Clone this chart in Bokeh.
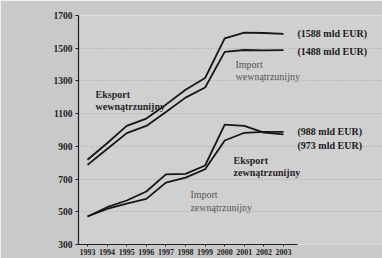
from bokeh.plotting import figure
from bokeh.models import Range1d, FixedTicker, ColumnDataSource
from bokeh.core.properties import value
from bokeh.embed import file_html
from bokeh.resources import INLINE

years = [1993, 1994, 1995, 1996, 1997, 1998, 1999, 2000, 2001, 2002, 2003]
eksport_wew = [818, 919, 1025, 1070, 1155, 1246, 1318, 1560, 1595, 1593, 1588]
import_wew = [787, 884, 981, 1025, 1110, 1198, 1260, 1478, 1489, 1487, 1488]
import_zew = [471, 528, 569, 624, 729, 732, 783, 1033, 1025, 984, 973]
eksport_zew = [471, 518, 550, 579, 678, 709, 760, 936, 983, 988, 988]
y_ticks = [300, 500, 700, 900, 1100, 1300, 1500, 1700]
x_ticks = years

FONT = "Liberation Serif"
BG = "#d0d0d0"

W, H = 382, 258
LEFT, TOP = 78, 15
p = figure(width=W, height=H, output_backend="svg", toolbar_location=None,
           x_range=Range1d(1992.54, 1992.54 + (W - LEFT) / 19.6), y_range=Range1d(300, 1700),
           min_border_left=LEFT, min_border_right=0, min_border_top=TOP, min_border_bottom=14)
p.background_fill_color = BG
p.border_fill_color = "#c9c9c9"
p.outline_line_color = None

for ax in (p.xaxis[0], p.yaxis[0]):
    ax.axis_line_color = "#1e1e1e"
    ax.axis_line_width = 1.2
    ax.major_tick_line_color = "#1e1e1e"
    ax.minor_tick_line_color = None
    ax.major_tick_in = 0
    ax.major_label_text_font = FONT
    ax.major_label_text_font_style = "bold"
    ax.major_label_text_color = "#222222"

p.xaxis.ticker = FixedTicker(ticks=x_ticks)
p.xaxis.bounds = (1992.54, 2003.7)
p.xaxis.major_tick_out = 2
p.xaxis.major_label_standoff = 2
p.xaxis.major_label_text_font_size = "8px"

p.yaxis.ticker = FixedTicker(ticks=y_ticks)
p.yaxis.major_tick_out = 3
p.yaxis.major_label_standoff = 3
p.yaxis.major_label_text_font_size = "9.5px"

p.xgrid.visible = False
p.ygrid.ticker = FixedTicker(ticks=y_ticks[1:-1])
p.ygrid.bounds = (1992.54, 2003.7)
p.ygrid.grid_line_color = "#a4a4a4"
p.ygrid.grid_line_dash = "1 2"
p.ygrid.grid_line_width = 1

for series in (eksport_wew, import_wew, import_zew, eksport_zew):
    p.line(years, series, line_color="#161616", line_width=1.8)

# end value labels
end_vals = [eksport_wew[-1], import_wew[-1], eksport_zew[-1], import_zew[-1]]
end_src = ColumnDataSource(dict(
    x=[years[-1]] * 4,
    y=end_vals,
    text=[f"({v} mld EUR)" for v in end_vals],
    yoff=[0, 1, 0, 11],
))
p.text(x="x", y="y", text="text", source=end_src, x_offset=14, y_offset="yoff",
       text_font=value(FONT), text_font_style="bold", text_font_size="10px",
       text_color="#1a1a1a", text_baseline="middle", text_align="left")

# series name labels
bold_src = ColumnDataSource(dict(
    x=[1993.41, 1993.41, 2000.45, 2000.45],
    y=[1217, 1142, 814, 740],
    text=["Eksport", "wewnątrzunijny", "Eksport", "zewnątrzunijny"],
))
p.text(x="x", y="y", text="text", source=bold_src,
       text_font=value(FONT), text_font_style="bold", text_font_size="10px",
       text_color="#262626", text_baseline="middle", text_align="left")

reg_src = ColumnDataSource(dict(
    x=[2000.55, 2000.55, 1998.25, 1998.25],
    y=[1403, 1328, 603, 529],
    text=["Import", "wewnątrzunijny", "Import", "zewnątrzunijny"],
))
p.text(x="x", y="y", text="text", source=reg_src,
       text_font=value(FONT), text_font_size="10px",
       text_color="#555555", text_baseline="middle", text_align="left")

open("out.html", "w").write(file_html(p, INLINE))
